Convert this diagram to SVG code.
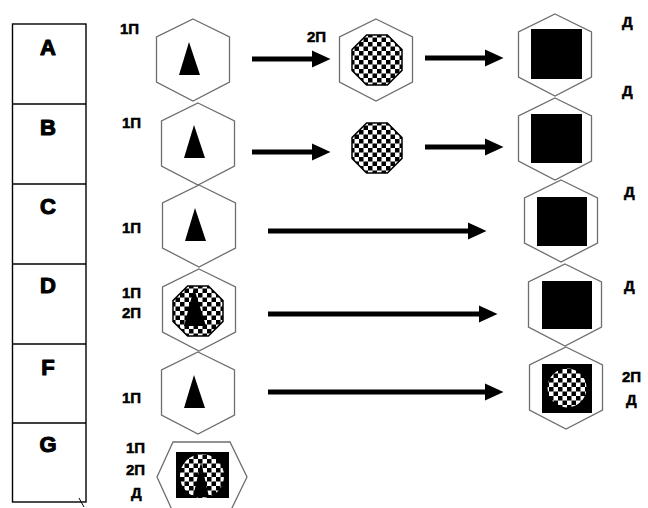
<svg xmlns="http://www.w3.org/2000/svg" xmlns:xlink="http://www.w3.org/1999/xlink" width="648" height="508" viewBox="0 0 648 508">
  <style>
    .hex { fill: #fff; stroke: #6e6e6e; stroke-width: 1.3; }
    .oct { fill: url(#checker); stroke: #000; stroke-width: 1.5; }
    .tri { fill: #000; }
    .sq { fill: #000; }
    .grid { fill: none; stroke: #000; stroke-width: 1.4; }
    .letter { font-family: "Liberation Sans", Arial, sans-serif; font-weight: bold; font-size: 22px; fill: #000; stroke: #000; stroke-width: 1.1; stroke-linejoin: round; text-anchor: middle; }
    .tag { font-family: "Liberation Sans", Arial, sans-serif; font-weight: bold; font-size: 15px; fill: #000; stroke: #000; stroke-width: 0.5; }
    .arrow { stroke: #000; stroke-width: 5; fill: none; marker-end: url(#head); }
  </style>
  <defs>
    <pattern id="checker" patternUnits="userSpaceOnUse" width="9" height="9">
      <rect width="9" height="9" fill="#fff"/>
      <rect x="0" y="0" width="4.5" height="4.5" fill="#000"/>
      <rect x="4.5" y="4.5" width="4.5" height="4.5" fill="#000"/>
    </pattern>
    <marker id="head" viewBox="0 -9 19 18" markerWidth="19" markerHeight="18" refX="1" refY="0" orient="auto" markerUnits="userSpaceOnUse">
      <path d="M0,-8.5 L18.5,0 L0,8.5 Z" fill="#000"/>
    </marker>
    <path id="hexShape" class="hex" d="M0,-41 L36.5,-23 L36.5,22 L0,41 L-36.5,22 L-36.5,-23 Z"/>
    <path id="octShape" class="oct" d="M-10.4,-25 L10.4,-25 L25,-10.4 L25,10.4 L10.4,25 L-10.4,25 L-25,10.4 L-25,-10.4 Z"/>
    <path id="triShape" class="tri" d="M-4,-18 L7,15 L-14,15 Z"/>
  </defs>

  <!-- row index table -->
  <g id="table">
    <rect class="grid" x="12.5" y="24" width="73.5" height="478"/>
    <line class="grid" x1="12.5" y1="104" x2="86" y2="104"/>
    <line class="grid" x1="12.5" y1="184" x2="86" y2="184"/>
    <line class="grid" x1="12.5" y1="264" x2="86" y2="264"/>
    <line class="grid" x1="12.5" y1="344" x2="86" y2="344"/>
    <line class="grid" x1="12.5" y1="423" x2="86" y2="423"/>
    <line x1="79" y1="498" x2="84" y2="507" stroke="#000" stroke-width="1"/>
    <text class="letter" x="48" y="55">A</text>
    <text class="letter" x="48" y="135">B</text>
    <text class="letter" x="48" y="214">C</text>
    <text class="letter" x="48" y="293">D</text>
    <text class="letter" x="48" y="375">F</text>
    <text class="letter" x="48" y="452">G</text>
  </g>

  <!-- connectors -->
  <g id="connectors">
    <line class="arrow" x1="252" y1="59" x2="313" y2="59"/>
    <line class="arrow" x1="425" y1="58" x2="486" y2="58"/>
    <line class="arrow" x1="252" y1="152" x2="313" y2="152"/>
    <line class="arrow" x1="425" y1="147" x2="486" y2="147"/>
    <line class="arrow" x1="268" y1="231" x2="469" y2="231"/>
    <line class="arrow" x1="268" y1="314" x2="480" y2="314"/>
    <line class="arrow" x1="268" y1="392" x2="486" y2="392"/>
  </g>

  <!-- row A -->
  <g id="a-start">
    <use href="#hexShape" x="193" y="60"/>
    <use href="#triShape" x="193" y="60"/>
    <text class="tag" x="120" y="34">1П</text>
  </g>
  <g id="a-mid">
    <use href="#hexShape" x="376" y="60"/>
    <use href="#octShape" x="377" y="60"/>
    <text class="tag" x="307" y="42">2П</text>
  </g>
  <g id="a-end">
    <use href="#hexShape" x="555" y="55"/>
    <rect class="sq" x="531" y="29" width="51" height="50"/>
    <text class="tag" x="622" y="27">Д</text>
  </g>

  <!-- row B -->
  <g id="b-start">
    <use href="#hexShape" x="198" y="144"/>
    <use href="#triShape" x="198" y="143"/>
    <text class="tag" x="122" y="128">1П</text>
  </g>
  <g id="b-mid">
    <use href="#octShape" x="377" y="148"/>
  </g>
  <g id="b-end">
    <use href="#hexShape" x="555" y="139"/>
    <rect class="sq" x="531" y="114" width="51" height="49"/>
    <text class="tag" x="622" y="96">Д</text>
  </g>

  <!-- row C -->
  <g id="c-start">
    <use href="#hexShape" x="199" y="226"/>
    <use href="#triShape" x="199" y="226"/>
    <text class="tag" x="122" y="233">1П</text>
  </g>
  <g id="c-end">
    <use href="#hexShape" x="561" y="221"/>
    <rect class="sq" x="537" y="197" width="50" height="49"/>
    <text class="tag" x="624" y="197">Д</text>
  </g>

  <!-- row D -->
  <g id="d-start">
    <use href="#hexShape" x="199" y="310"/>
    <use href="#octShape" x="198" y="311"/>
    <path class="tri" d="M194,288 L206,326 L184,326 Z"/>
    <text class="tag" x="122" y="298">1П</text>
    <text class="tag" x="122" y="318">2П</text>
  </g>
  <g id="d-end">
    <use href="#hexShape" x="565" y="305"/>
    <rect class="sq" x="542" y="281" width="50" height="48"/>
    <text class="tag" x="624" y="291">Д</text>
  </g>

  <!-- row F -->
  <g id="f-start">
    <use href="#hexShape" x="198" y="393"/>
    <use href="#triShape" x="198" y="393"/>
    <text class="tag" x="122" y="403">1П</text>
  </g>
  <g id="f-end">
    <use href="#hexShape" x="566" y="388"/>
    <rect class="sq" x="542" y="364" width="50" height="49"/>
    <circle cx="567" cy="388" r="19.5" fill="url(#checker)"/>
    <text class="tag" x="622" y="382">2П</text>
    <text class="tag" x="626" y="405">Д</text>
  </g>

  <!-- row G -->
  <g id="g-final">
    <path class="hex" d="M173,442 L230,442 L247,477 L230,512 L173,512 L157,477 Z"/>
    <rect class="sq" x="176" y="452" width="53" height="46"/>
    <circle cx="202" cy="476" r="22" fill="url(#checker)"/>
    <path class="tri" d="M201,462 L209,497 L193,497 Z"/>
    <text class="tag" x="126" y="453">1П</text>
    <text class="tag" x="126" y="475">2П</text>
    <text class="tag" x="131" y="498">Д</text>
  </g>
</svg>
